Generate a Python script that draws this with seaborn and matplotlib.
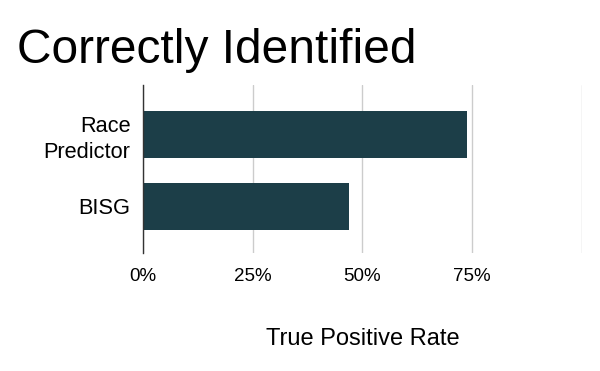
import pandas as pd
import matplotlib.pyplot as plt
import seaborn as sns

methods = ['Race\nPredictor', 'BISG']
tpr = [0.738, 0.469]
tick_vals = [0, 0.25, 0.5, 0.75, 1.0]
tick_labels = ['0%', '25%', '50%', '75%', '']

df = pd.DataFrame({'Method': methods, 'TPR': tpr})

sns.set_theme(style='white')
plt.rcParams['font.family'] = ['Liberation Sans', 'DejaVu Sans']

fig = plt.figure(figsize=(6, 3.71), dpi=100)
ax = fig.add_axes([0.2383, 0.318, 0.7317, 0.4529])

sns.barplot(data=df, x='TPR', y='Method', orient='h', color='#1c3e48',
            width=0.65, saturation=1, linewidth=0, ax=ax)

ax.set_xlim(0, 1)
ax.set_ylim(1.65, -0.685)
ax.set_xticks(tick_vals)
ax.set_xticklabels(tick_labels)
ax.xaxis.grid(True, color='#cccccc', linewidth=1)
ax.set_axisbelow(True)
ax.tick_params(axis='x', length=0, pad=11, labelsize=13.5, colors='black')
ax.tick_params(axis='y', length=0, pad=9, labelsize=15.7, colors='black')
for lbl in ax.get_yticklabels():
    lbl.set_linespacing(1.3)

for side in ['top', 'right', 'bottom']:
    ax.spines[side].set_visible(False)
ax.spines['left'].set_color('#333333')
ax.spines['left'].set_linewidth(1)

ax.set_ylabel('')
ax.set_xlabel('True Positive Rate', fontsize=17, color='black', labelpad=31)

fig.text(0.028, 1 - 63 / 371, 'Correctly Identified', fontsize=34.5,
         va='baseline', ha='left', color='black')

fig.savefig('out.png', dpi=100, facecolor='white')
